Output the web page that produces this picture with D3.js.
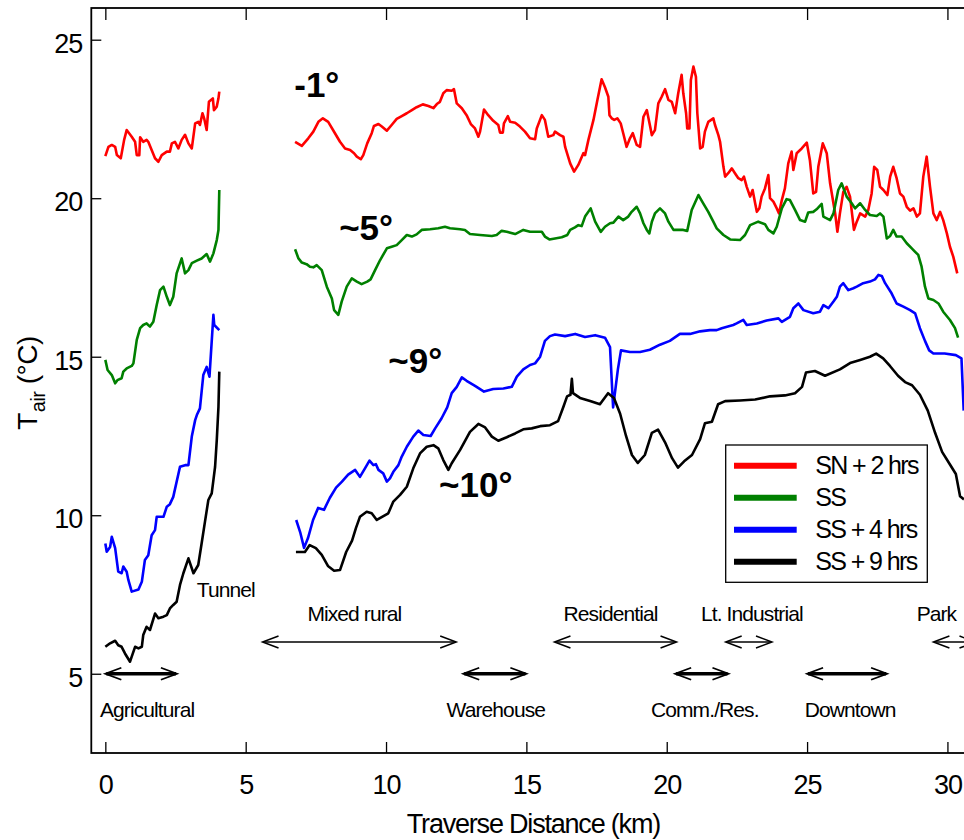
<!DOCTYPE html>
<meta charset="utf-8">
<style>
    body { margin: 0; background: #fff; }
    text { font-family: Arial, "Liberation Sans", sans-serif; }
</style>

<script src="https://d3js.org/d3.v7.min.js"></script>

<div id="chart"></div>

<script>
    // tick labels
    var xTicks = [0, 5, 10, 15, 20, 25, 30];
    var yTicks = [5, 10, 15, 20, 25];

    // series
    var seriesNames = ["SN + 2 hrs", "SS", "SS + 4 hrs", "SS + 9 hrs"];

    // [distance km, T air °C]; each run is split by the tunnel gap
    var sn2Before = [[0,21.33],[0.11,21.62],[0.23,21.68],[0.35,21.62],[0.41,21.36],[0.55,21.26],[0.67,21.84],[0.76,22.15],[0.94,21.94],[1.06,21.78],[1.12,21.36],[1.21,21.36],[1.24,21.92],[1.35,21.78],[1.47,21.84],[1.53,21.78],[1.65,21.52],[1.77,21.26],[1.89,21.15],[2.01,21.36],[2.19,21.47],[2.30,21.47],[2.37,21.73],[2.48,21.78],[2.60,21.57],[2.72,21.84],[2.84,22.0],[2.96,21.73],[3.08,21.57],[3.20,22.36],[3.31,22.41],[3.37,22.31],[3.46,22.68],[3.52,22.52],[3.61,22.15],[3.69,23.04],[3.83,23.15],[3.87,22.78],[3.97,22.89],[4.03,23.15],[4.06,23.36]];
    var sn2After = [[6.76,21.78],[7.00,21.65],[7.23,21.89],[7.41,22.10],[7.59,22.41],[7.75,22.52],[7.94,22.41],[8.18,22.05],[8.36,21.78],[8.54,21.57],[8.72,21.52],[8.86,21.42],[8.96,21.31],[9.10,21.23],[9.19,21.36],[9.33,21.73],[9.49,22.05],[9.57,22.28],[9.73,22.34],[9.85,22.26],[10.03,22.13],[10.20,22.31],[10.38,22.50],[10.56,22.59],[10.74,22.68],[10.92,22.78],[11.09,22.87],[11.31,22.96],[11.51,22.91],[11.69,22.84],[11.81,22.97],[11.92,23.04],[12.04,23.31],[12.16,23.41],[12.34,23.39],[12.42,23.44],[12.52,22.99],[12.70,22.84],[12.87,22.62],[13.02,22.34],[13.17,22.20],[13.29,21.94],[13.35,22.10],[13.49,22.80],[13.64,22.62],[13.82,22.44],[14.00,22.31],[14.06,22.07],[14.16,22.07],[14.20,22.36],[14.34,22.59],[14.42,22.41],[14.60,22.38],[14.77,22.26],[14.95,22.10],[15.13,21.89],[15.31,21.86],[15.37,22.20],[15.55,22.62],[15.66,22.47],[15.78,21.94],[15.96,21.99],[16.02,22.10],[16.20,21.99],[16.32,21.94],[16.38,21.62],[16.56,21.10],[16.70,20.84],[16.85,21.05],[17.03,21.42],[17.09,21.36],[17.21,21.84],[17.39,22.47],[17.53,23.10],[17.68,23.75],[17.80,23.50],[17.92,23.20],[17.96,22.62],[18.04,22.52],[18.13,22.47],[18.24,22.52],[18.36,22.36],[18.45,22.05],[18.57,21.62],[18.69,21.89],[18.79,22.05],[18.93,21.68],[19.05,21.62],[19.17,22.57],[19.29,22.78],[19.41,22.26],[19.47,21.99],[19.58,22.15],[19.70,22.99],[19.82,23.20],[19.94,23.44],[20.06,23.10],[20.18,23.04],[20.30,22.68],[20.41,23.31],[20.53,23.89],[20.59,23.31],[20.69,22.68],[20.73,22.20],[20.81,22.20],[20.86,23.73],[20.95,24.15],[21.04,23.83],[21.09,22.68],[21.19,21.57],[21.28,21.62],[21.36,22.10],[21.48,22.41],[21.66,22.52],[21.72,22.31],[21.84,21.99],[21.90,21.78],[22.02,20.99],[22.08,20.68],[22.19,20.79],[22.32,20.94],[22.43,20.79],[22.55,20.63],[22.67,20.57],[22.75,20.68],[22.85,20.36],[22.97,20.05],[23.06,20.26],[23.15,19.84],[23.21,19.57],[23.30,19.68],[23.38,20.05],[23.50,20.31],[23.62,20.73],[23.68,20.00],[23.80,19.89],[23.92,19.68],[24.00,19.52],[24.10,19.94],[24.21,20.31],[24.33,21.10],[24.45,21.47],[24.51,20.89],[24.63,21.42],[24.81,21.57],[24.99,21.75],[25.10,21.20],[25.22,20.15],[25.32,20.20],[25.40,20.99],[25.56,21.73],[25.70,21.42],[25.82,20.47],[26.00,19.52],[26.08,18.94],[26.17,19.52],[26.29,20.20],[26.41,20.36],[26.53,20.05],[26.67,19.00],[26.77,19.26],[26.89,19.52],[27.07,19.42],[27.18,19.63],[27.30,20.15],[27.39,20.99],[27.50,20.89],[27.60,20.36],[27.72,20.26],[27.86,20.10],[27.96,20.68],[28.07,20.99],[28.19,20.63],[28.31,20.15],[28.43,20.05],[28.55,19.73],[28.67,19.61],[28.79,19.68],[28.91,19.42],[29.02,19.52],[29.14,20.68],[29.26,21.31],[29.38,20.36],[29.50,19.52],[29.62,19.31],[29.74,19.57],[29.85,19.31],[29.98,18.89],[30.09,18.47],[30.21,18.15],[30.35,17.63]];

    var ssBefore = [[0,14.9],[0.08,14.58],[0.23,14.42],[0.35,14.16],[0.43,14.26],[0.58,14.32],[0.64,14.53],[0.76,14.63],[0.94,14.71],[1.0,14.79],[1.12,15.53],[1.24,15.9],[1.35,16.0],[1.47,16.05],[1.59,15.95],[1.71,16.1],[1.83,16.63],[1.95,17.1],[2.07,17.21],[2.19,16.89],[2.30,16.63],[2.42,16.89],[2.54,17.63],[2.72,18.1],[2.84,17.63],[2.96,17.73],[3.08,17.95],[3.26,18.03],[3.43,18.1],[3.61,18.24],[3.73,18.0],[3.85,18.26],[3.97,18.68],[4.03,19.0],[4.06,20.26]];
    var ssAfter = [[6.76,18.39],[6.88,18.1],[7.00,17.97],[7.17,17.92],[7.29,17.84],[7.41,17.82],[7.53,17.89],[7.71,17.73],[7.89,17.21],[8.07,16.84],[8.15,16.47],[8.30,16.32],[8.42,16.74],[8.60,17.21],[8.78,17.47],[8.96,17.37],[9.13,17.29],[9.33,17.37],[9.45,17.44],[9.61,17.73],[9.79,18.05],[10.03,18.42],[10.20,18.47],[10.38,18.52],[10.56,18.68],[10.74,18.84],[10.92,18.79],[11.09,18.86],[11.27,19.0],[11.57,19.02],[11.86,19.05],[12.10,19.1],[12.28,19.05],[12.64,19.02],[12.81,19.0],[12.99,18.87],[13.35,18.84],[13.77,18.81],[13.94,18.84],[14.12,18.97],[14.30,18.94],[14.60,18.87],[14.89,19.0],[15.13,18.94],[15.55,18.94],[15.66,18.79],[15.82,18.7],[16.02,18.73],[16.26,18.77],[16.46,18.84],[16.56,19.0],[16.73,19.08],[16.85,19.15],[16.97,19.12],[17.09,19.42],[17.29,19.68],[17.45,19.26],[17.65,18.94],[17.80,19.1],[17.98,19.21],[18.10,19.23],[18.28,19.42],[18.45,19.31],[18.63,19.42],[18.75,19.57],[18.93,19.73],[19.05,19.52],[19.17,19.21],[19.29,19.0],[19.38,18.89],[19.47,19.26],[19.58,19.52],[19.76,19.68],[19.94,19.52],[20.06,19.26],[20.24,19.0],[20.41,19.0],[20.59,19.0],[20.73,18.97],[20.89,19.63],[21.13,20.1],[21.30,19.84],[21.48,19.57],[21.66,19.26],[21.78,19.05],[22.02,18.84],[22.26,18.7],[22.61,18.68],[22.79,18.84],[22.97,19.15],[23.26,19.26],[23.50,19.18],[23.62,19.0],[23.80,18.89],[23.92,19.1],[24.10,19.68],[24.27,19.97],[24.39,19.94],[24.57,19.63],[24.75,19.31],[24.93,19.26],[25.04,19.55],[25.22,19.57],[25.34,19.65],[25.52,19.82],[25.58,19.42],[25.82,19.31],[25.94,19.52],[26.11,20.26],[26.23,20.47],[26.41,20.05],[26.59,19.84],[26.71,19.68],[26.89,19.84],[27.07,19.63],[27.24,19.47],[27.48,19.44],[27.60,19.52],[27.72,19.42],[27.84,18.73],[27.96,18.81],[28.07,19.0],[28.19,18.79],[28.37,18.79],[28.55,18.58],[28.73,18.42],[28.85,18.31],[28.96,18.21],[29.08,17.84],[29.20,17.21],[29.32,16.84],[29.50,16.79],[29.68,16.68],[29.85,16.42],[30.09,16.16],[30.27,15.9],[30.38,15.6]];

    var ss4Before = [[0,9.11],[0.05,8.85],[0.17,9.0],[0.23,9.32],[0.35,8.96],[0.46,8.22],[0.58,8.17],[0.64,8.38],[0.76,8.22],[0.82,7.96],[0.94,7.59],[1.18,7.66],[1.30,7.9],[1.41,8.59],[1.53,8.74],[1.65,9.37],[1.77,9.53],[1.83,9.95],[2.07,9.95],[2.19,10.27],[2.30,10.35],[2.42,10.58],[2.66,11.53],[2.84,11.58],[2.96,11.58],[3.08,12.48],[3.20,13.0],[3.26,13.16],[3.37,13.37],[3.49,14.42],[3.61,14.68],[3.71,14.37],[3.85,16.32],[3.88,16.0],[4.06,15.84]];
    var ss4After = [[6.80,9.85],[6.94,9.47],[7.08,8.97],[7.22,9.28],[7.40,9.85],[7.58,10.23],[7.79,10.17],[8.00,10.55],[8.22,10.87],[8.43,11.06],[8.65,11.28],[8.90,11.43],[9.07,11.21],[9.25,11.48],[9.41,11.72],[9.55,11.58],[9.64,11.61],[9.73,11.43],[9.90,11.32],[10.03,11.06],[10.14,11.16],[10.26,11.37],[10.44,11.58],[10.56,11.85],[10.74,12.16],[10.97,12.48],[11.15,12.67],[11.33,12.53],[11.59,12.5],[11.75,12.74],[11.98,13.06],[12.18,13.4],[12.34,13.85],[12.52,14.05],[12.70,14.35],[12.87,14.24],[13.17,14.08],[13.49,13.9],[13.82,13.98],[14.18,14.0],[14.48,14.05],[14.66,14.37],[14.89,14.6],[15.13,14.74],[15.31,14.79],[15.49,15.0],[15.66,15.5],[15.84,15.65],[16.02,15.7],[16.38,15.65],[16.74,15.72],[17.09,15.62],[17.45,15.68],[17.80,15.6],[17.98,15.3],[18.09,13.4],[18.26,14.6],[18.37,15.2],[18.69,15.15],[19.05,15.15],[19.40,15.22],[19.76,15.38],[20.11,15.5],[20.47,15.72],[20.83,15.72],[21.19,15.8],[21.54,15.84],[21.78,15.84],[21.96,15.9],[22.37,16.0],[22.49,16.05],[22.73,16.16],[22.85,16.0],[23.21,16.05],[23.56,16.14],[23.98,16.21],[24.10,16.1],[24.39,16.26],[24.51,16.53],[24.69,16.68],[24.87,16.47],[25.22,16.37],[25.46,16.42],[25.58,16.63],[25.76,16.53],[25.94,16.74],[26.06,16.89],[26.17,17.21],[26.29,17.32],[26.47,17.1],[26.65,17.16],[26.77,17.21],[27.00,17.32],[27.24,17.37],[27.42,17.44],[27.54,17.58],[27.66,17.55],[27.78,17.32],[28.01,17.0],[28.19,16.68],[28.43,16.58],[28.67,16.47],[28.85,16.37],[29.02,15.9],[29.2,15.5],[29.35,15.2],[29.5,15.1],[29.9,15.1],[30.3,15.05],[30.5,14.95],[30.58,13.3]];

    var ss9Before = [[0,5.85],[0.17,5.96],[0.35,6.04],[0.46,5.9],[0.58,5.85],[0.70,5.64],[0.88,5.38],[0.98,5.64],[1.06,5.85],[1.18,5.8],[1.30,5.85],[1.35,6.22],[1.47,6.48],[1.59,6.38],[1.77,6.9],[1.89,6.75],[2.07,6.8],[2.19,6.85],[2.30,7.06],[2.42,7.17],[2.54,7.27],[2.66,7.8],[2.78,8.17],[2.96,8.64],[3.14,8.17],[3.31,8.43],[3.43,9.11],[3.55,9.8],[3.67,10.48],[3.79,10.69],[3.85,11.11],[3.91,11.53],[3.97,12.37],[4.03,13.42],[4.06,14.53]];
    var ss9After = [[6.79,8.84],[7.11,8.84],[7.28,9.06],[7.50,8.96],[7.71,8.75],[7.93,8.4],[8.15,8.25],[8.36,8.27],[8.58,8.84],[8.79,9.2],[8.93,9.6],[9.07,9.95],[9.31,10.11],[9.49,10.06],[9.67,9.85],[10.08,10.06],[10.26,10.43],[10.50,10.64],[10.74,10.9],[10.97,11.48],[11.21,11.95],[11.45,12.16],[11.69,12.21],[11.86,12.11],[12.04,11.74],[12.22,11.43],[12.34,11.64],[12.64,12.06],[12.99,12.63],[13.29,12.88],[13.53,12.77],[13.77,12.48],[14.0,12.35],[14.3,12.46],[14.6,12.58],[14.89,12.71],[15.19,12.74],[15.49,12.81],[15.84,12.84],[16.13,12.97],[16.31,13.4],[16.45,13.75],[16.57,13.8],[16.62,14.3],[16.66,13.85],[16.91,13.7],[17.27,13.6],[17.62,13.5],[17.91,13.85],[18.12,13.7],[18.34,13.2],[18.55,12.5],[18.76,11.9],[18.97,11.65],[19.22,11.9],[19.47,12.6],[19.69,12.7],[19.94,12.3],[20.19,11.8],[20.40,11.5],[20.62,11.7],[20.90,11.9],[21.19,12.4],[21.36,12.9],[21.61,12.95],[21.83,13.5],[22.08,13.6],[22.61,13.62],[23.15,13.65],[23.68,13.75],[24.21,13.78],[24.57,13.85],[24.82,14.05],[24.96,14.5],[25.28,14.55],[25.64,14.4],[26.17,14.6],[26.53,14.8],[26.89,14.9],[27.24,15.0],[27.46,15.1],[27.71,14.95],[27.96,14.7],[28.24,14.4],[28.49,14.2],[28.74,14.1],[29.02,13.8],[29.30,13.3],[29.56,12.6],[29.81,12.0],[30.09,11.6],[30.30,11.3],[30.45,10.6],[30.59,10.5]];

    var seriesRuns = [[sn2Before, sn2After], [ssBefore, ssAfter], [ss4Before, ss4After], [ss9Before, ss9After]];

    // land-use zones along the traverse (km)
    var zoneNames = ["Agricultural", "Mixed rural", "Warehouse", "Residential", "Comm./Res.", "Lt. Industrial", "Downtown", "Park"];
    var zoneStart = [0, 5.6, 12.75, 16.0, 20.3, 22.1, 25.0, 29.5];
    var zoneEnd = [2.55, 12.5, 15.0, 20.35, 22.2, 23.75, 27.85, 31.0];

    // lag of peak cooling behind each run
    var lagLabels = ["-1°", "~5°", "~9°", "~10°"];

    /* Layout */
    var width = 964, height = 840;
    var colors = ["#ff0000", "#008000", "#0000ff", "#000000"];
    var zoneRow = [1, 0, 1, 0, 1, 0, 1, 0];          // 0 = upper row, 1 = lower row
    var rowTemp = [6, 5];                            // arrow heights in axis units
    var zoneLabelDx = [6, -5, 1, -5, 3, 3, 3, -18];
    var lagPos = [[6.73, 23.2], [8.33, 18.68], [10.08, 14.48], [11.89, 10.58]];

    var svg = d3.select("#chart").append("svg").attr("width", width).attr("height", height);

    var x = d3.scaleLinear().domain([-0.5, 31]).range([91.3, 975.5]);
    var y = d3.scaleLinear().domain([2.5, 26]).range([753, 8]);

    // Axes, ticks pointing inward.
    var bottomAxis = svg.append("g").attr("transform", "translate(0," + y(2.5) + ")");
    bottomAxis.call(d3.axisBottom(x).tickValues(d3.range(0, 31)).tickSize(-5).tickFormat(""));
    bottomAxis.call(d3.axisBottom(x).tickValues(xTicks).tickSize(-11).tickPadding(22).tickFormat(d3.format("d")));

    var topAxis = svg.append("g").attr("transform", "translate(0," + y(26) + ")");
    topAxis.call(d3.axisTop(x).tickValues(d3.range(0, 31)).tickSize(-6).tickFormat(""));
    topAxis.call(d3.axisTop(x).tickValues(xTicks).tickSize(-12).tickFormat(""));

    var leftAxis = svg.append("g").attr("transform", "translate(" + x(-0.5) + ",0)");
    leftAxis.call(d3.axisLeft(y).tickValues(d3.range(5, 26)).tickSize(-5).tickFormat(""));
    leftAxis.call(d3.axisLeft(y).tickValues(yTicks).tickSize(-10).tickPadding(9).tickFormat(d3.format("d")));
    leftAxis.selectAll("text").attr("dy", "0.47em");

    svg.selectAll(".domain").remove();
    svg.selectAll(".tick line").attr("stroke", "#000").attr("stroke-width", 1.3);
    svg.selectAll(".tick text")
        .attr("font-family", "Arial, 'Liberation Sans', sans-serif")
        .attr("font-size", 27).attr("letter-spacing", "-1px").attr("fill", "#000");

    // Frame.
    svg.append("rect")
        .attr("x", x(-0.5)).attr("y", y(26))
        .attr("width", x(31) - x(-0.5)).attr("height", y(2.5) - y(26))
        .attr("fill", "none").attr("stroke", "#000").attr("stroke-width", 1.8);

    // Axis titles.
    svg.append("text")
        .attr("x", (x(-0.5) + x(31)) / 2).attr("y", 833)
        .attr("text-anchor", "middle").attr("font-size", 27).attr("letter-spacing", "-1.2px")
        .text("Traverse Distance (km)");

    var ytitle = svg.append("text")
        .attr("transform", "translate(37," + 383 + ") rotate(-90)")
        .attr("text-anchor", "middle").attr("font-size", 28).attr("letter-spacing", "-0.5px");
    ytitle.append("tspan").text("T");
    ytitle.append("tspan").attr("font-size", 20).attr("dy", 8).attr("dx", 1).text("air");
    ytitle.append("tspan").attr("dy", -8).text(" (°C)");

    // Temperature runs.
    var line = d3.line().x(function(d) { return x(d[0]); }).y(function(d) { return y(d[1]); });
    seriesRuns.forEach(function(runs, i) {
        runs.forEach(function(run) {
            svg.append("path").datum(run)
                .attr("d", line)
                .attr("fill", "none")
                .attr("stroke", colors[i])
                .attr("stroke-width", 2.6)
                .attr("stroke-linejoin", "round");
        });
    });

    // Zone arrows and labels.
    zoneNames.forEach(function(name, i) {
        var yy = y(rowTemp[zoneRow[i]]);
        var x0 = x(zoneStart[i]), x1 = x(zoneEnd[i]);
        var thick = zoneRow[i] === 1;
        svg.append("line")
            .attr("x1", x0 + 1).attr("x2", x1 - 1).attr("y1", yy).attr("y2", yy)
            .attr("stroke", "#000").attr("stroke-width", thick ? 3.4 : 1.6);
        [[x0, 1], [x1, -1]].forEach(function(h) {
            svg.append("polyline")
                .attr("points", [[h[0] + h[1] * 16, yy - 6], [h[0], yy], [h[0] + h[1] * 16, yy + 6]].join(" "))
                .attr("fill", "none").attr("stroke", "#000")
                .attr("stroke-width", thick ? 1.8 : 1.5);
        });
        svg.append("text")
            .attr("x", (x0 + x1) / 2 + zoneLabelDx[i])
            .attr("y", thick ? yy + 43 : yy - 21)
            .attr("text-anchor", "middle")
            .attr("font-size", 21).attr("letter-spacing", "-0.9px")
            .text(name);
    });

    // Tunnel label.
    svg.append("text")
        .attr("x", x(3.26)).attr("y", y(7.43))
        .attr("font-size", 21).attr("letter-spacing", "-0.9px")
        .text("Tunnel");

    // Lag labels.
    lagLabels.forEach(function(t, i) {
        svg.append("text")
            .attr("x", x(lagPos[i][0])).attr("y", y(lagPos[i][1]))
            .attr("font-size", 35).attr("font-weight", "bold")
            .text(t);
    });

    // Legend.
    var legend = svg.append("g").attr("transform", "translate(725.7,445)");
    legend.append("rect").attr("width", 201.6).attr("height", 137.3)
        .attr("fill", "#fff").attr("stroke", "#000").attr("stroke-width", 1.3);
    seriesNames.forEach(function(name, i) {
        var ly = 20.7 + i * 32;
        legend.append("line")
            .attr("x1", 8.3).attr("x2", 71).attr("y1", ly).attr("y2", ly)
            .attr("stroke", colors[i]).attr("stroke-width", 6);
        legend.append("text")
            .attr("x", 89.5).attr("y", ly + 8.5)
            .attr("font-size", 25).attr("letter-spacing", "-1.6px")
            .text(name);
    });
</script>
